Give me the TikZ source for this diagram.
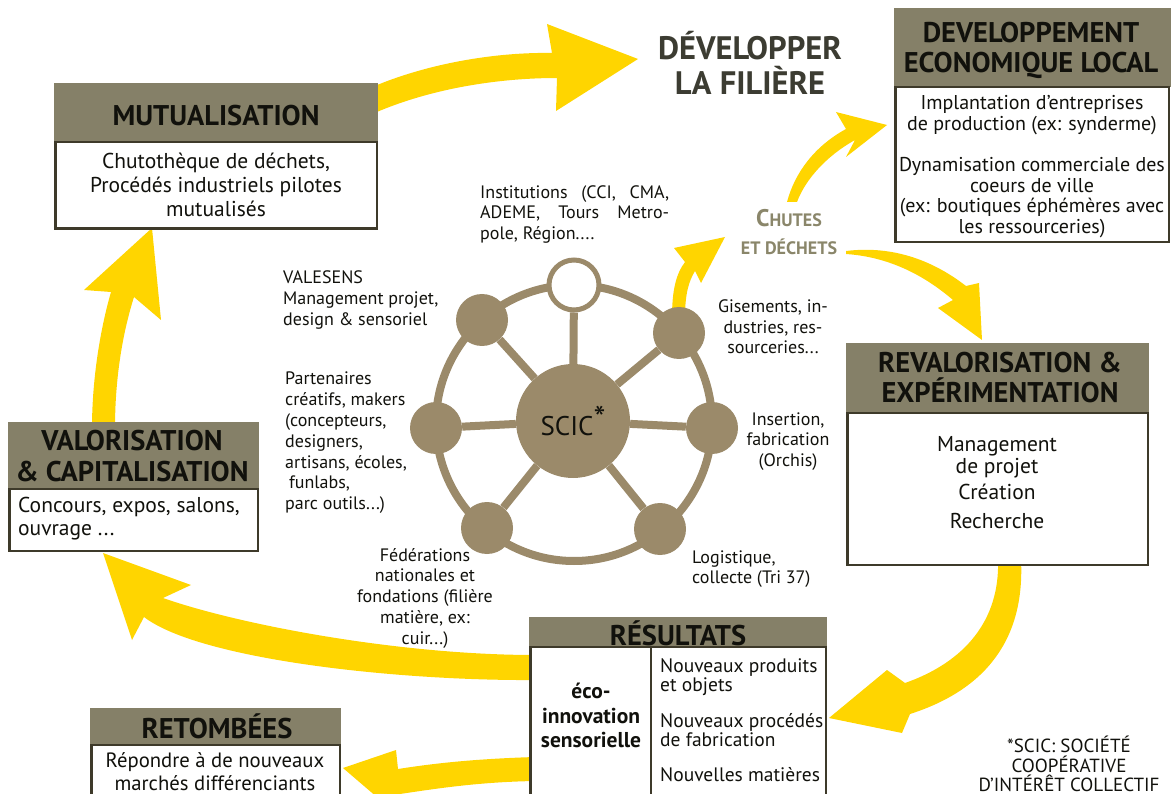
\documentclass[tikz,border=0pt]{standalone}
\usepackage{fontspec}
\setmainfont{PT Sans}
\definecolor{hdr}{RGB}{133,128,104}
\definecolor{net}{RGB}{155,138,106}
\definecolor{yel}{RGB}{255,213,0}
\definecolor{bdr}{RGB}{62,58,42}
\definecolor{chute}{RGB}{138,134,106}
\definecolor{ttl}{RGB}{60,60,50}
\definecolor{ink}{RGB}{17,17,12}
\begin{document}
\begin{tikzpicture}[x=1pt,y=-1pt,
  tx/.style={inner sep=0pt, anchor=base, text=ink},
  txw/.style={inner sep=0pt, anchor=base west, text=ink},
  hd/.style={tx, font=\fontsize{28.5}{32}\selectfont\bfseries},
  bd/.style={tx, font=\fontsize{21.5}{24}\selectfont},
  bdw/.style={txw, font=\fontsize{21.5}{24}\selectfont},
  lb/.style={tx, font=\fontsize{18}{21}\selectfont},
  lbw/.style={txw, font=\fontsize{18}{21}\selectfont},
  hdrbox/.style={fill=hdr, draw=none},
  bodybox/.style={fill=white, draw=bdr, line width=2.5pt},
  yarrow/.style={fill=yel, draw=none},
  sat/.style={circle, fill=net, draw=none, minimum size=52pt, inner sep=0pt},
  satw/.style={circle, fill=white, draw=net, line width=5pt, minimum size=50pt, inner sep=0pt},
  spoke/.style={draw=net, line width=8pt},
]
\useasboundingbox (0,0) rectangle (1171,794);

% ---------- yellow arrows ----------
% Mutualisation -> Developper
\fill[yarrow] (370,88) .. controls (430,62) and (500,52) .. (552,53) -- (547,24) -- (638,59) -- (556,111) -- (557,78) .. controls (500,78) and (430,88) .. (370,115) -- cycle;
% Valorisation -> Mutualisation
\fill[yarrow] (92,428) .. controls (92,380) and (100,330) .. (111,292) -- (84,290) -- (152,228) -- (161,320) -- (134,297) .. controls (122,335) and (115,380) .. (115,428) -- cycle;
% Resultats -> Valorisation
\fill[yarrow] (535,655) .. controls (400,655) and (240,625) .. (163,598) -- (191,585) -- (103,553) -- (132,640) -- (144,617) .. controls (200,660) and (400,681) .. (535,680) -- cycle;
% Resultats -> Retombees
\fill[yarrow] (535,757) .. controls (470,759) and (430,764) .. (398,769) -- (396,750) -- (343,768) -- (392,810) -- (400,794) .. controls (440,788) and (480,782) .. (535,781) -- cycle;
% Chutes -> Developpement economique
\fill[yarrow] (787,202) .. controls (795,172) and (815,146) .. (846,129) -- (836,112) -- (887,125) -- (846,157) -- (855,140) .. controls (828,155) and (806,178) .. (797,202) -- cycle;
% SCIC node -> Chutes
\fill[yarrow] (672,318) .. controls (672,290) and (676,274) .. (685,262) -- (674,248) -- (725,237) -- (701,283) -- (695,271) .. controls (689,281) and (685,293) .. (685,318) -- cycle;
% Dechets -> Revalorisation
\fill[yarrow] (846,251) .. controls (895,245) and (935,262) .. (966,286) -- (979,283) -- (982,340) -- (938,308) -- (953,300) .. controls (925,276) and (890,257) .. (846,254) -- cycle;
% Revalorisation -> Resultats
\fill[yarrow] (1021,560) .. controls (1025,640) and (985,690) .. (910,714) -- (902,733) -- (829,718) -- (887,670) -- (905,683) .. controls (965,662) and (1000,620) .. (998,560) -- cycle;

% ---------- boxes ----------
% Mutualisation
\path[hdrbox] (54,83) rectangle (378,142);
\path[bodybox] (55.25,142) rectangle (376.75,228.75);
\node[hd] (mutH) at (216,126) {MUTUALISATION};
\node[bd] (mut1) at (216,169) {Chutothèque de déchets,};
\node[bd] (mut2) at (216,193) {Procédés industriels pilotes};
\node[bd] (mut3) at (216,217) {mutualisés};

% Developpement economique local
\path[hdrbox] (894,8) rectangle (1171,87);
\path[bodybox] (895.25,87) rectangle (1169,242);
\node[hd] (devH1) at (1031,43) {DEVELOPPEMENT};
\node[hd] (devH2) at (1031,73) {ECONOMIQUE LOCAL};
\begin{scope}[every node/.append style={font=\fontsize{20}{23}\selectfont}]
\node[tx] (dev1) at (1032,110) {Implantation d’entreprises};
\node[tx] (dev2) at (1032,131) {de production (ex: synderme)};
\node[tx] (dev3) at (1032,172) {Dynamisation commerciale des};
\node[tx] (dev4) at (1032,193) {coeurs de ville};
\node[tx] (dev5) at (1032,213) {(ex: boutiques éphémères avec};
\node[tx] (dev6) at (1032,234) {les ressourceries)};
\end{scope}

% Revalorisation & experimentation
\path[hdrbox] (846,343) rectangle (1149,413);
\path[bodybox] (847.25,413) rectangle (1147.75,564.75);
\node[hd] (revH1) at (1000,373) {REVALORISATION \&};
\node[hd] (revH2) at (1000,403) {EXPÉRIMENTATION};
\node[bd] (rev1) at (997,452) {Management};
\node[bd] (rev2) at (997,474) {de projet};
\node[bd] (rev3) at (997,500) {Création};
\node[bd] (rev4) at (997,528) {Recherche};

% Valorisation & capitalisation
\path[hdrbox] (8,422) rectangle (259,489);
\path[bodybox] (9.25,489) rectangle (257.75,550.75);
\node[hd] (valH1) at (132,450) {VALORISATION};
\node[hd] (valH2) at (132,481) {\& CAPITALISATION};
\node[bdw] (val1) at (18,512) {Concours, expos, salons,};
\node[bdw] (val2) at (18,535) {ouvrage ...};

% Resultats
\path[hdrbox] (529,617) rectangle (827,647);
\path[bodybox] (530.25,647) rectangle (825.75,800);
\coordinate (divT) at (651,647);
\coordinate (divB) at (651,800);
\draw[draw=bdr, line width=2.5pt] (divT) -- (divB);
\node[hd] (resH) at (678,645) {RÉSULTATS};
\begin{scope}[every node/.append style={font=\fontsize{21.5}{24}\selectfont\bfseries}]
\node[tx] (res1) at (591,698) {éco-};
\node[tx] (res2) at (591,723) {innovation};
\node[tx] (res3) at (591,747) {sensorielle};
\end{scope}
\begin{scope}[every node/.append style={font=\fontsize{19.5}{22}\selectfont}]
\node[txw] (res4) at (660,672) {Nouveaux produits};
\node[txw] (res5) at (660,691) {et objets};
\node[txw] (res6) at (660,727) {Nouveaux procédés};
\node[txw] (res7) at (660,746) {de fabrication};
\node[txw] (res8) at (660,781) {Nouvelles matières};
\end{scope}

% Retombees
\path[hdrbox] (90,708) rectangle (341,745);
\path[bodybox] (91.25,745) rectangle (339.75,800);
\node[hd] (retH) at (217,738) {RETOMBÉES};
\node[tx, font=\fontsize{20.7}{24}\selectfont] (ret1) at (215,767) {Répondre à de nouveaux};
\node[tx, font=\fontsize{20.7}{24}\selectfont] (ret2) at (215,790) {marchés différenciants};

% ---------- titles ----------
\node[tx, font=\fontsize{32.5}{36}\selectfont\bfseries, text=ttl] (dev1t) at (750,60) {DÉVELOPPER};
\node[tx, font=\fontsize{32.5}{36}\selectfont\bfseries, text=ttl] (dev2t) at (750,95) {LA FILIÈRE};
\node[tx, font=\bfseries, text=chute] (chutes) at (789,227) {\fontsize{24}{24}\selectfont C\fontsize{18}{18}\selectfont HUTES};
\node[tx, font=\fontsize{18}{20}\selectfont\bfseries, text=chute] (dechets) at (789,255) {ET DÉCHETS};

% ---------- network ----------
\coordinate (rc) at (574,423);
\draw[draw=net, line width=8pt] (rc) circle [radius=138pt];
\node[satw] (nT) at (574,285) {};
\node[sat] (nTL) at (482,320) {};
\node[sat] (nTR) at (679,333) {};
\node[sat] (nL) at (436,428) {};
\node[sat] (nR) at (712,428) {};
\node[sat] (nBL) at (487,528) {};
\node[sat] (nBR) at (660,529) {};
\node[circle, fill=net, minimum size=114pt, inner sep=0pt, font=\fontsize{27}{27}\selectfont, text=ink] (scic) at (573,421) {SCIC\raisebox{5pt}{\fontsize{34}{34}\selectfont *}};
\foreach \n in {nT,nTL,nTR,nL,nR,nBL,nBR} \draw[spoke] (scic) -- (\n);

% ---------- labels ----------
\node[lbw] (inst1) at (480,199) {\hbox to 189pt{Institutions\hfill(CCI,\hfill CMA,}};
\node[lbw] (inst2) at (480,219) {\hbox to 189pt{ADEME,\hfill Tours\hfill Metro-}};
\node[lbw] (inst3) at (480,240) {pole, Région....};

\node[lbw] (vs1) at (283,284) {VALESENS};
\node[lbw] (vs2) at (283,305) {Management projet,};
\node[lbw] (vs3) at (283,326) {design \& sensoriel};

\node[lbw] (pa1) at (285,385) {Partenaires};
\node[lbw] (pa2) at (285,406) {créatifs, makers};
\node[lbw] (pa3) at (285,427) {(concepteurs,};
\node[lbw] (pa4) at (285,448) {designers,};
\node[lbw] (pa5) at (285,468) {artisans, écoles,};
\node[lbw] (pa6) at (289,489) {funlabs,};
\node[lbw] (pa7) at (285,509) {parc outils...)};

\node[lb] (gi1) at (773,313) {Gisements, in-};
\node[lb] (gi2) at (773,334) {dustries, res-};
\node[lb] (gi3) at (773,354) {sourceries...};

\node[lb] (in1) at (788,425) {Insertion,};
\node[lb] (in2) at (788,446) {fabrication};
\node[lb] (in3) at (788,466) {(Orchis)};

\node[lbw] (lo1) at (692,563) {Logistique,};
\node[lbw] (lo2) at (692,583) {collecte (Tri 37)};

\node[lb] (fe1) at (425,561) {Fédérations};
\node[lb] (fe2) at (425,581) {nationales et};
\node[lb] (fe3) at (425,602) {fondations (filière};
\node[lb] (fe4) at (425,623) {matière, ex:};
\node[lb] (fe5) at (425,644) {cuir...)};

\begin{scope}[every node/.append style={font=\fontsize{19}{22}\selectfont, text=black!85}]
\node[tx] (fn1) at (1069,752) {*SCIC: SOCIÉTÉ};
\node[tx] (fn2) at (1069,772) {COOPÉRATIVE};
\node[tx] (fn3) at (1069,791) {D’INTÉRÊT COLLECTIF};
\end{scope}
\end{tikzpicture}
\end{document}
